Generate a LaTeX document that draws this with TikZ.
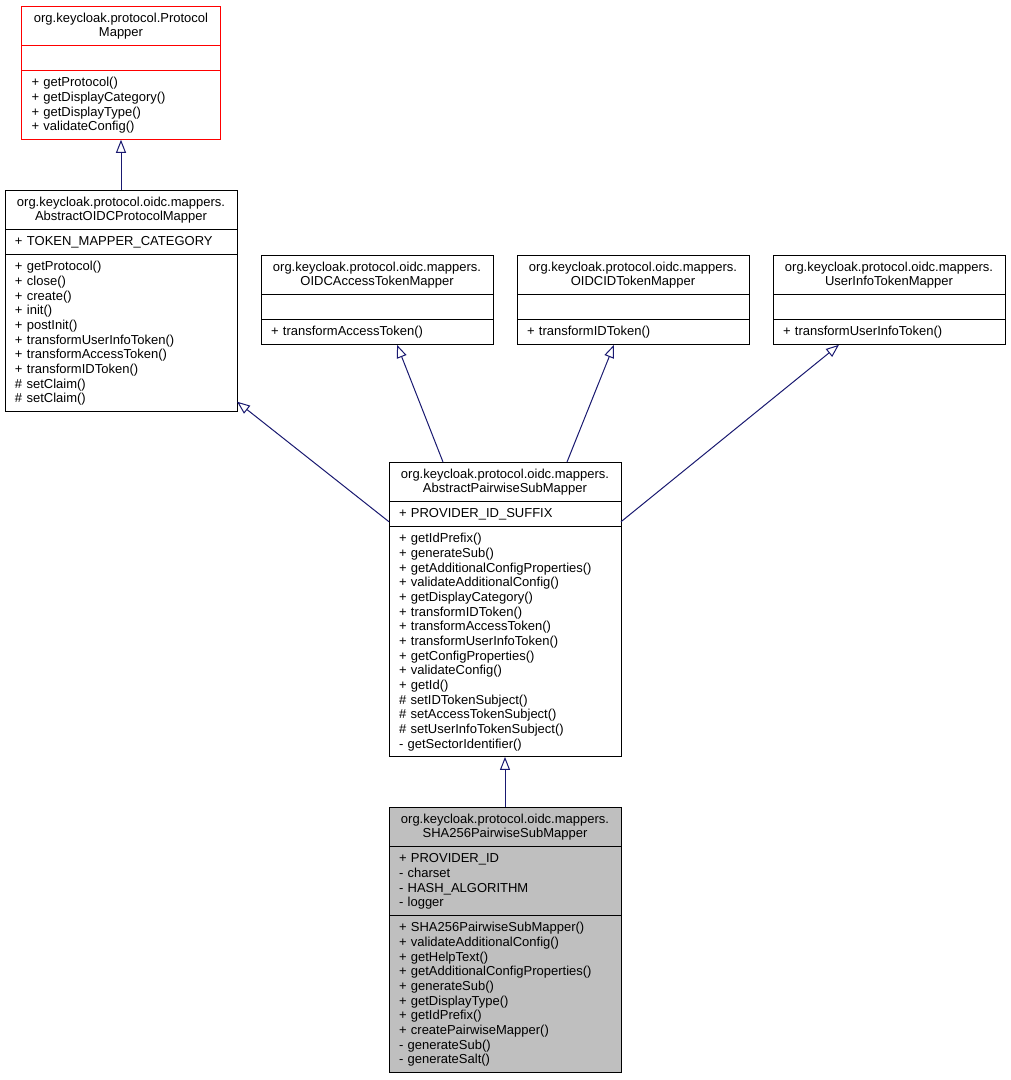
\documentclass[tikz,border=0pt]{standalone}
\usepackage{fontspec}
\setmainfont{Liberation Sans}
\usetikzlibrary{positioning,arrows.meta}
\definecolor{edgeblue}{HTML}{191970}
\definecolor{shagray}{HTML}{BFBFBF}
\newcommand{\lstrut}{\rule[-3.65pt]{0pt}{14.65pt}}

\begin{document}
\begin{tikzpicture}[x=1pt,y=-1pt,
		part/.style={draw=black,line width=1pt,outer sep=0pt,inner xsep=10pt,inner ysep=5.2pt,text width=212pt,
			font=\fontsize{13}{14.65}\selectfont,execute at begin node=\lstrut,execute at end node=\lstrut},
		head/.style={part,align=center},
		body/.style={part,align=left},
		redpart/.style={draw=red,text width=179pt},
		graypart/.style={fill=shagray},
		inherit/.style={draw=edgeblue,line width=1pt,-{Triangle[open,length=13pt,width=10pt]}}]
		\useasboundingbox (0,0) rectangle (1011,1080);

		\node[head,redpart,anchor=north west]			(pmh)	at (21.5,6)	{org.keycloak.protocol.Protocol\\Mapper};
		\node[body,redpart,below=0pt of pmh]			(pma)		{};
		\node[body,redpart,below=0pt of pma]			(pmm)		{+ getProtocol()\\+ getDisplayCategory()\\+ getDisplayType()\\+ validateConfig()};

		\node[head,anchor=north west]					(oidch)	at (5,190)	{org.keycloak.protocol.oidc.mappers.\\AbstractOIDCProtocolMapper};
		\node[body,below=0pt of oidch]					(oidca)		{+ TOKEN\_MAPPER\_CATEGORY};
		\node[body,below=0pt of oidca]					(oidcm)		{+ getProtocol()\\+ close()\\+ create()\\+ init()\\+ postInit()\\+ transformUserInfoToken()\\+ transformAccessToken()\\+ transformIDToken()\\\# setClaim()\\\# setClaim()};

		\node[head,anchor=north west]					(acch)	at (261,255)	{org.keycloak.protocol.oidc.mappers.\\OIDCAccessTokenMapper};
		\node[body,below=0pt of acch]					(acca)		{};
		\node[body,below=0pt of acca]					(accm)		{+ transformAccessToken()};

		\node[head,right=24pt of acch]					(idh)		{org.keycloak.protocol.oidc.mappers.\\OIDCIDTokenMapper};
		\node[body,below=0pt of idh]					(ida)		{};
		\node[body,below=0pt of ida]					(idm)		{+ transformIDToken()};

		\node[head,right=24pt of idh]					(uih)		{org.keycloak.protocol.oidc.mappers.\\UserInfoTokenMapper};
		\node[body,below=0pt of uih]					(uia)		{};
		\node[body,below=0pt of uia]					(uim)		{+ transformUserInfoToken()};

		\node[head,anchor=north west]					(pwsh)	at (389,462)	{org.keycloak.protocol.oidc.mappers.\\AbstractPairwiseSubMapper};
		\node[body,below=0pt of pwsh]					(pwsa)		{+ PROVIDER\_ID\_SUFFIX};
		\node[body,below=0pt of pwsa]					(pwsm)		{+ getIdPrefix()\\+ generateSub()\\+ getAdditionalConfigProperties()\\+ validateAdditionalConfig()\\+ getDisplayCategory()\\+ transformIDToken()\\+ transformAccessToken()\\+ transformUserInfoToken()\\+ getConfigProperties()\\+ validateConfig()\\+ getId()\\\# setIDTokenSubject()\\\# setAccessTokenSubject()\\\# setUserInfoTokenSubject()\\- getSectorIdentifier()};

		\node[head,graypart,anchor=north west]			(shah)	at (389,807)	{org.keycloak.protocol.oidc.mappers.\\SHA256PairwiseSubMapper};
		\node[body,graypart,below=0pt of shah]			(shaa)		{+ PROVIDER\_ID\\- charset\\- HASH\_ALGORITHM\\- logger};
		\node[body,graypart,below=0pt of shaa]			(sham)		{+ SHA256PairwiseSubMapper()\\+ validateAdditionalConfig()\\+ getHelpText()\\+ getAdditionalConfigProperties()\\+ generateSub()\\+ getDisplayType()\\+ getIdPrefix()\\+ createPairwiseMapper()\\- generateSub()\\- generateSalt()};

		\draw[inherit] (oidch.north) -- (pmm.south);
		\draw[inherit] ([yshift=5pt]pwsa.south west) -- ([yshift=10pt]oidcm.south east);
		\draw[inherit] ([xshift=-62pt]pwsh.north) -- ([xshift=20pt]accm.south);
		\draw[inherit] ([xshift=62pt]pwsh.north) -- ([xshift=-19pt]idm.south);
		\draw[inherit] ([yshift=5pt]pwsa.south east) -- ([xshift=-50pt]uim.south);
		\draw[inherit] (shah.north) -- (pwsm.south);
	\end{tikzpicture}
\end{document}
